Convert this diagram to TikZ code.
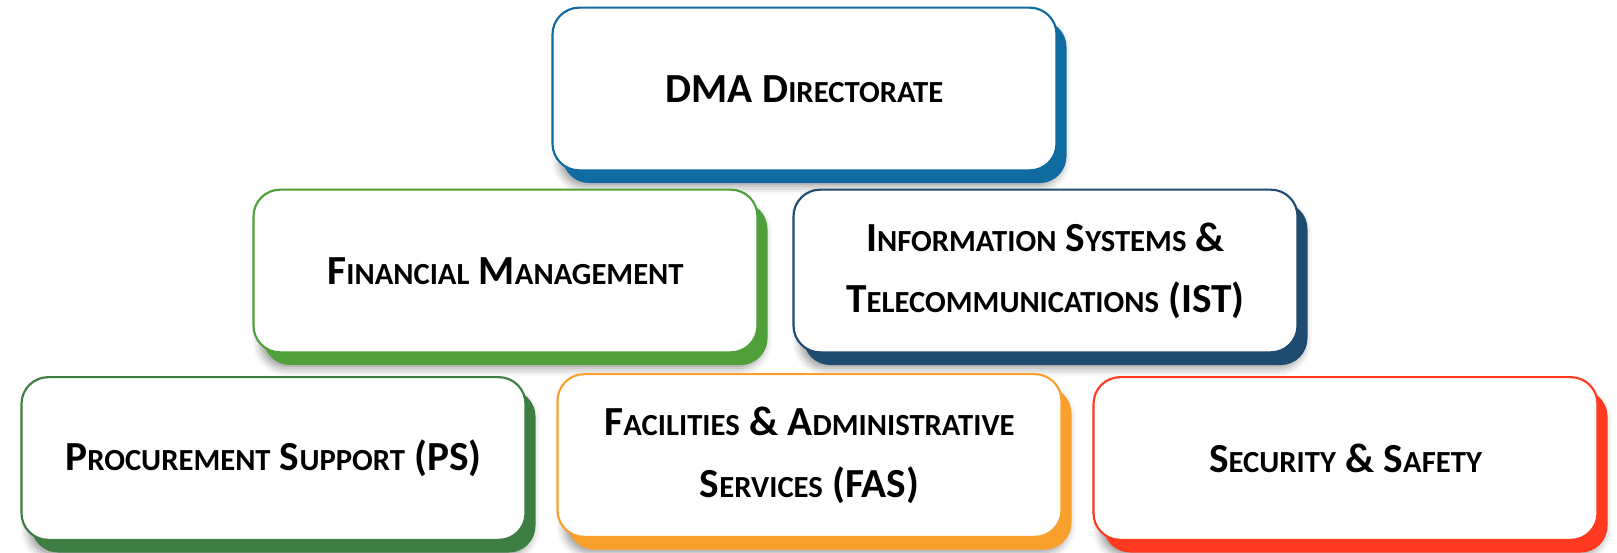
\documentclass[tikz,border=0pt]{standalone}
\usepackage{fontspec}
\setmainfont{Carlito}
\usetikzlibrary{shadows,shadows.blur}
\definecolor{cDMA}{HTML}{0F6BA0}
\definecolor{cFin}{HTML}{4FA03A}
\definecolor{cIST}{HTML}{1F4B70}
\definecolor{cPS}{HTML}{3E7E42}
\definecolor{cFAS}{HTML}{F9A02C}
\definecolor{cSec}{HTML}{FF3A20}
\newcommand\smc[1]{{\fontsize{23pt}{23pt}\selectfont #1}}
\tikzset{
  unitbox/.style={draw=#1, line width=1.6pt, fill=white, rounded corners=20pt,
    minimum width=378pt, minimum height=122pt, align=center, text=black,
    font=\bfseries\fontsize{31pt}{46pt}\selectfont,
    blur shadow={shadow xshift=5pt, shadow yshift=-12pt, shadow blur radius=6pt},
    general shadow={shadow xshift=7.5pt, shadow yshift=-9.5pt, fill=#1, draw=none}},
}
\begin{document}
\begin{tikzpicture}[x=0.75pt,y=-0.75pt]
\useasboundingbox (0,0) rectangle (1617,553);
\node[unitbox=cDMA] (dma) at (804.5,89) {DMA D\smc{IRECTORATE}};
\node[unitbox=cFin] (fin) at (505.5,271) {F\smc{INANCIAL} M\smc{ANAGEMENT}};
\node[unitbox=cIST] (ist) at (1045.5,271) {I\smc{NFORMATION} S\smc{YSTEMS} \&\\T\smc{ELECOMMUNICATIONS} (IST)};
\node[unitbox=cPS] (ps) at (273.5,458.5) {P\smc{ROCUREMENT} S\smc{UPPORT} (PS)};
\node[unitbox=cFAS] (fas) at (809.5,455.5) {F\smc{ACILITIES} \& A\smc{DMINISTRATIVE}\\S\smc{ERVICES} (FAS)};
\node[unitbox=cSec] (sec) at (1345.5,458.5) {S\smc{ECURITY} \& S\smc{AFETY}};
\end{tikzpicture}
\end{document}
